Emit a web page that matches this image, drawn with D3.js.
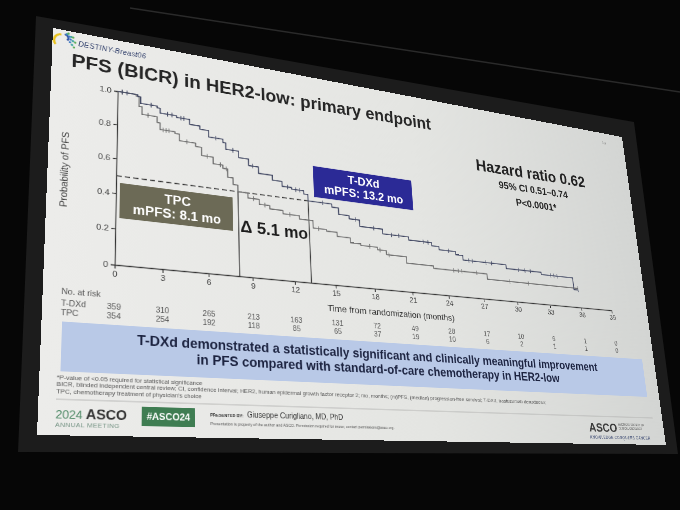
<!DOCTYPE html>
<html>
<head>
<meta charset="utf-8">
<script src="https://cdn.jsdelivr.net/npm/d3@7"></script>
<style>
  html, body { margin: 0; padding: 0; background: #060606; overflow: hidden; }
  #scene { position: relative; width: 680px; height: 510px; }
  #bg { position: absolute; left: 0; top: 0; }
  #slide { position: absolute; left: 0; top: 0; width: 960px; height: 540px; transform-origin: 0 0; }
  text { font-family: "Liberation Sans", Arial, sans-serif; }
</style>
</head>
<body>
<div id="scene">
  <svg id="bg" width="680" height="510"></svg>
  <div id="slide"></div>
</div>
<script>
// Kaplan-Meier steps (months, probability)
const tdxdTime = [0, 1.3, 1.5, 2.6, 2.8, 3.9, 4.8, 5.5, 6.1, 7.1, 7.3, 8.2, 8.9, 9.6, 10.6, 11.3, 12.0, 12.9, 13.2,
                  15.0, 15.5, 16.3, 17.1, 18.9, 21.0, 22.9, 23.5, 24.9, 25.5, 29.3, 32.5, 35.5, 35.9];
const tdxdSurv = [1.0, 0.99, 0.95, 0.94, 0.91, 0.90, 0.87, 0.85, 0.81, 0.79, 0.75, 0.71, 0.67, 0.63, 0.60, 0.57, 0.56, 0.54, 0.50,
                  0.48, 0.44, 0.42, 0.38, 0.35, 0.33, 0.31, 0.29, 0.27, 0.24, 0.215, 0.20, 0.12, 0.12];
const tpcTime = [0, 1.2, 1.4, 1.6, 2.6, 2.8, 3.8, 4.1, 5.2, 5.6, 6.4, 7.07, 7.4, 7.77, 8.1, 8.8, 9.6, 10.35, 11.3, 12.5,
                 13.5, 14.5, 15.3, 16.3, 17.1, 18.4, 19.1, 20.7, 22.9, 27.5, 35.9];
const tpcSurv = [1.0, 0.99, 0.93, 0.885, 0.85, 0.81, 0.80, 0.76, 0.74, 0.69, 0.65, 0.63, 0.58, 0.54, 0.50, 0.47, 0.44, 0.42, 0.40, 0.38,
                 0.335, 0.325, 0.30, 0.27, 0.26, 0.245, 0.22, 0.18, 0.165, 0.13, 0.13];

// censored observations (months)
const tdxdCensor = [0.3, 0.6, 2.2, 3.3, 3.6, 4.2, 4.4, 6.6, 7.8, 9.2, 11.7, 12.3, 12.6, 14.3, 16.8, 18.2, 19.6, 20.2,
                    22.2, 22.6, 24.3, 26.0, 26.3, 27.5, 28.0, 30.4, 31.0, 31.5, 33.4, 33.7, 34.0, 35.9];
const tpcCensor = [0.3, 2.0, 3.0, 3.2, 3.4, 4.6, 6.0, 6.9, 7.3, 9.2, 10.0, 11.8, 13.9, 17.8, 18.6, 19.3,
                   24.6, 25.0, 25.3, 26.6, 29.5, 31.2, 35.9];

// medians
const medianTPC = 8.1;
const medianTDXd = 13.2;

// axis ticks
const monthTicks = [0, 3, 6, 9, 12, 15, 18, 21, 24, 27, 30, 33, 36, 39];
const probTicks = [0, 0.2, 0.4, 0.6, 0.8, 1.0];

// number at risk
const riskTDXd = [359, 310, 265, 213, 163, 131, 72, 49, 28, 17, 10, 6, 1, 0];
const riskTPC = [354, 254, 192, 118, 85, 65, 37, 19, 10, 6, 2, 1, 1, 0];

const footnotes = [
  "*P-value of <0.05 required for statistical significance",
  "BICR, blinded independent central review; CI, confidence interval; HER2, human epidermal growth factor receptor 2; mo, months; (m)PFS, (median) progression-free survival; T-DXd, trastuzumab deruxtecan;",
  "TPC, chemotherapy treatment of physician's choice"
];

// Slide is drawn flat (960x540) and then warped onto the photographed screen
const W = 960, H = 540;
const flatCorners = [[0, 0], [W, 0], [W, H], [0, H]];
const photoCorners = [[53, 28], [622, 137], [666, 445], [37, 435]];

function homography(src, dst) {
  const A = [], B = [];
  src.forEach(([x, y], i) => {
    const [X, Y] = dst[i];
    A.push([x, y, 1, 0, 0, 0, -x * X, -y * X]); B.push(X);
    A.push([0, 0, 0, x, y, 1, -x * Y, -y * Y]); B.push(Y);
  });
  const n = 8;
  for (let i = 0; i < n; i++) {
    let p = i;
    for (let r = i + 1; r < n; r++) if (Math.abs(A[r][i]) > Math.abs(A[p][i])) p = r;
    [A[i], A[p]] = [A[p], A[i]];
    [B[i], B[p]] = [B[p], B[i]];
    for (let r = i + 1; r < n; r++) {
      const f = A[r][i] / A[i][i];
      for (let c = i; c < n; c++) A[r][c] -= f * A[i][c];
      B[r] -= f * B[i];
    }
  }
  const h = new Array(n);
  for (let i = n - 1; i >= 0; i--) {
    let s = B[i];
    for (let c = i + 1; c < n; c++) s -= A[i][c] * h[c];
    h[i] = s / A[i][i];
  }
  return h;
}
const [ha, hb, hc, hd, he, hf, hg, hh] = homography(flatCorners, photoCorners);
d3.select("#slide").style("transform",
  `matrix3d(${ha},${hd},0,${hg},${hb},${he},0,${hh},0,0,1,0,${hc},${hf},0,1)`);

// Room / screen frame behind the slide
const bg = d3.select("#bg");
bg.append("rect").attr("width", 680).attr("height", 510).attr("fill", "#060606");
bg.append("polygon")
  .attr("points", "36,16 634,122 678,454 18,452")
  .attr("fill", "#1c1c1c");
bg.append("line")
  .attr("x1", 130).attr("y1", 8).attr("x2", 680).attr("y2", 92)
  .attr("stroke", "#2a2a2a").attr("stroke-width", 1.5);

const svg = d3.select("#slide").append("svg")
  .attr("width", W).attr("height", H);

const defs = svg.append("defs");
const grad = defs.append("linearGradient").attr("id", "slide-grad")
  .attr("x1", "0%").attr("x2", "100%").attr("y1", "0%").attr("y2", "0%");
grad.append("stop").attr("offset", "0%").attr("stop-color", "#ececea");
grad.append("stop").attr("offset", "55%").attr("stop-color", "#e4e5e2");
grad.append("stop").attr("offset", "100%").attr("stop-color", "#d3d5d3");

svg.append("rect").attr("width", W).attr("height", H).attr("fill", "url(#slide-grad)");

// Logo
const logo = svg.append("g").attr("transform", "translate(13,15)");
logo.append("path").attr("d", "M-9,8 A10,10 0 0 1 -2,-8").attr("fill", "none")
  .attr("stroke", "#e8c21c").attr("stroke-width", 3);
[["#2c4fa3", -4], ["#3f79c4", 0], ["#3aa3a0", 4], ["#5cae5a", 8]].forEach(([col, r], i) => {
  for (let k = 0; k < 4; k++) {
    const ang = -1.2 + k * 0.55;
    logo.append("circle")
      .attr("cx", (5 + i * 3) * Math.cos(ang) + 2)
      .attr("cy", (5 + i * 3) * Math.sin(ang) - 4 + i * 2)
      .attr("r", 1.6).attr("fill", col);
  }
});
svg.append("text").attr("x", 33).attr("y", 20)
  .attr("font-size", 10).attr("font-style", "italic").attr("fill", "#2b3a67")
  .attr("letter-spacing", 0.3)
  .text("DESTINY-Breast06");

// Title
svg.append("text").attr("x", 25).attr("y", 52)
  .attr("font-size", 27).attr("font-weight", "bold").attr("fill", "#262626")
  .text("PFS (BICR) in HER2-low: primary endpoint");

svg.append("text").attr("x", 917).attr("y", 21)
  .attr("font-size", 7).attr("fill", "#777").attr("text-anchor", "middle").text("10");

// Scales
const x = d3.scaleLinear().domain([0, 39]).range([86, 885]);
const y = d3.scaleLinear().domain([0, 1]).range([322, 77]);

// Axes
const yAxis = svg.append("g")
  .attr("transform", `translate(${x(0)},0)`)
  .call(d3.axisLeft(y).tickValues(probTicks).tickSizeOuter(0).tickSize(5)
    .tickFormat(d => d === 0 ? "0" : d3.format(".1f")(d)));
const xAxis = svg.append("g")
  .attr("transform", `translate(0,${y(0)})`)
  .call(d3.axisBottom(x).tickValues(monthTicks).tickSizeOuter(0).tickSize(5)
    .tickFormat(d3.format("d")));
[yAxis, xAxis].forEach(g => {
  g.select(".domain").attr("stroke", "#333").attr("stroke-width", 1.3);
  g.selectAll(".tick line").attr("stroke", "#333").attr("stroke-width", 1.2);
  g.selectAll(".tick text").attr("fill", "#444").attr("font-size", 11.5)
    .attr("font-family", "'Liberation Sans', Arial, sans-serif");
});

svg.append("text")
  .attr("transform", `translate(25,${y(0.5)}) rotate(-90)`)
  .attr("text-anchor", "middle").attr("font-size", 13).attr("fill", "#444")
  .text("Probability of PFS");

svg.append("text").attr("x", x(14.3)).attr("y", y(0) + 39)
  .attr("font-size", 13.5).attr("fill", "#333")
  .text("Time from randomization (months)");

// Median guide lines
svg.append("line")
  .attr("x1", x(0)).attr("x2", x(medianTDXd))
  .attr("y1", y(0.5)).attr("y2", y(0.5))
  .attr("stroke", "#333").attr("stroke-width", 1.4).attr("stroke-dasharray", "7,4");
[medianTPC, medianTDXd].forEach(m => {
  svg.append("line")
    .attr("x1", x(m)).attr("x2", x(m))
    .attr("y1", y(0.5)).attr("y2", y(0))
    .attr("stroke", "#3a3a3a").attr("stroke-width", 1.4);
});

// KM curves
const step = d3.line().x(d => x(d[0])).y(d => y(d[1])).curve(d3.curveStepAfter);
function survAt(times, surv, t) {
  const i = d3.bisectRight(times, t) - 1;
  return surv[Math.max(0, i)];
}
const series = [
  { times: tpcTime, surv: tpcSurv, censor: tpcCensor, color: "#707070" },
  { times: tdxdTime, surv: tdxdSurv, censor: tdxdCensor, color: "#424863" }
];
series.forEach(s => {
  svg.append("path")
    .datum(d3.zip(s.times, s.surv))
    .attr("fill", "none").attr("stroke", s.color).attr("stroke-width", 1.6)
    .attr("d", step);
  svg.append("g").selectAll("line")
    .data(s.censor)
    .join("line")
    .attr("x1", d => x(d)).attr("x2", d => x(d))
    .attr("y1", d => y(survAt(s.times, s.surv, d)) - 3.5)
    .attr("y2", d => y(survAt(s.times, s.surv, d)) + 3.5)
    .attr("stroke", s.color).attr("stroke-width", 1.1);
});

// Median boxes
function labelBox(x0, x1, y0, y1, fill, lines) {
  const bx = x(x0), bw = x(x1) - x(x0), by = y(y0), bh = y(y1) - y(y0);
  svg.append("rect").attr("x", bx).attr("y", by).attr("width", bw).attr("height", bh).attr("fill", fill);
  lines.forEach((t, i) => {
    svg.append("text")
      .attr("x", bx + bw / 2).attr("y", by + bh * (i === 0 ? 0.42 : 0.84))
      .attr("text-anchor", "middle").attr("font-size", 18).attr("font-weight", "bold")
      .attr("fill", "#fff").text(t);
  });
}
labelBox(0.24, 7.71, 0.461, 0.261, "#6c6a56", ["TPC", `mPFS: ${medianTPC} mo`]);
labelBox(13.67, 21.57, 0.727, 0.53, "#2b2a96", ["T-DXd", `mPFS: ${medianTDXd} mo`]);

svg.append("text")
  .attr("x", x((medianTPC + medianTDXd) / 2)).attr("y", y(0.262))
  .attr("text-anchor", "middle").attr("font-size", 24).attr("font-weight", "bold").attr("fill", "#1c1c1c")
  .text(`Δ ${(medianTDXd - medianTPC).toFixed(1)} mo`);

// Hazard ratio block
const hr = svg.append("g").attr("text-anchor", "middle").attr("fill", "#222").attr("font-weight", "bold");
hr.append("text").attr("x", 756).attr("y", 109).attr("font-size", 27).text("Hazard ratio 0.62");
hr.append("text").attr("x", 756).attr("y", 134).attr("font-size", 17).text("95% CI 0.51–0.74");
hr.append("text").attr("x", 758).attr("y", 160).attr("font-size", 17).text("P<0.0001*");

// Number at risk
const risk = svg.append("g").attr("fill", "#555").attr("font-size", 10.5);
risk.append("text").attr("x", 22).attr("y", 366).text("No. at risk");
risk.append("text").attr("x", 22).attr("y", 381).text("T-DXd");
risk.append("text").attr("x", 22).attr("y", 393).text("TPC");
[[riskTDXd, 381], [riskTPC, 393]].forEach(([vals, yy]) => {
  risk.append("g").selectAll("text")
    .data(vals)
    .join("text")
    .attr("x", (d, i) => x(monthTicks[i])).attr("y", yy)
    .attr("text-anchor", "middle")
    .text(d => d);
});

// Conclusion banner
svg.append("rect").attr("x", 24).attr("y", 401).attr("width", 911).attr("height", 62).attr("fill", "#b9c9e7");
const ban = svg.append("g").attr("text-anchor", "middle").attr("font-size", 18)
  .attr("font-weight", "bold").attr("fill", "#1c2340");
ban.append("text").attr("x", 478).attr("y", 425)
  .text("T-DXd demonstrated a statistically significant and clinically meaningful improvement");
ban.append("text").attr("x", 478).attr("y", 446)
  .text("in PFS compared with standard-of-care chemotherapy in HER2-low");

// Footnotes
svg.append("g").attr("fill", "#555").attr("font-size", 7.8)
  .selectAll("text").data(footnotes).join("text")
  .attr("x", 20).attr("y", (d, i) => 473 + i * 8.5)
  .text(d => d);

svg.append("line").attr("x1", 20).attr("x2", 940).attr("y1", 497).attr("y2", 497)
  .attr("stroke", "#a9aaa8").attr("stroke-width", 0.8);

// Footer
const ft = svg.append("text").attr("x", 20).attr("y", 520);
ft.append("tspan").attr("font-size", 14).attr("fill", "#4f8a67").text("2024 ");
ft.append("tspan").attr("font-size", 17).attr("font-weight", "bold").attr("fill", "#333").text("ASCO");
svg.append("text").attr("x", 20).attr("y", 530).attr("font-size", 7.6).attr("fill", "#6f8f7f")
  .attr("letter-spacing", 0.6).text("ANNUAL MEETING");

svg.append("rect").attr("x", 122).attr("y", 503).attr("width", 67).attr("height", 24).attr("fill", "#3f7d52");
svg.append("text").attr("x", 155.5).attr("y", 519.5).attr("text-anchor", "middle")
  .attr("font-size", 12).attr("font-weight", "bold").attr("fill", "#fff").text("#ASCO24");

svg.append("text").attr("x", 209).attr("y", 513).attr("font-size", 5.5).attr("font-weight", "bold")
  .attr("fill", "#333").text("PRESENTED BY:");
svg.append("text").attr("x", 258).attr("y", 513).attr("font-size", 10).attr("fill", "#333")
  .text("Giuseppe Curigliano, MD, PhD");
svg.append("text").attr("x", 209).attr("y", 524).attr("font-size", 5.3).attr("fill", "#555")
  .text("Presentation is property of the author and ASCO. Permission required for reuse; contact permissions@asco.org.");

svg.append("text").attr("x", 810).attr("y", 521).attr("font-size", 19).attr("font-weight", "bold")
  .attr("fill", "#3a3a3a").text("ASCO");
svg.append("text").attr("x", 868).attr("y", 511).attr("font-size", 4.5).attr("fill", "#555")
  .text("AMERICAN SOCIETY OF");
svg.append("text").attr("x", 868).attr("y", 517).attr("font-size", 4.5).attr("fill", "#555")
  .text("CLINICAL ONCOLOGY");
svg.append("text").attr("x", 810).attr("y", 532).attr("font-size", 6.3).attr("fill", "#2b3a67")
  .attr("letter-spacing", 0.5).text("KNOWLEDGE CONQUERS CANCER");
</script>
</body>
</html>
